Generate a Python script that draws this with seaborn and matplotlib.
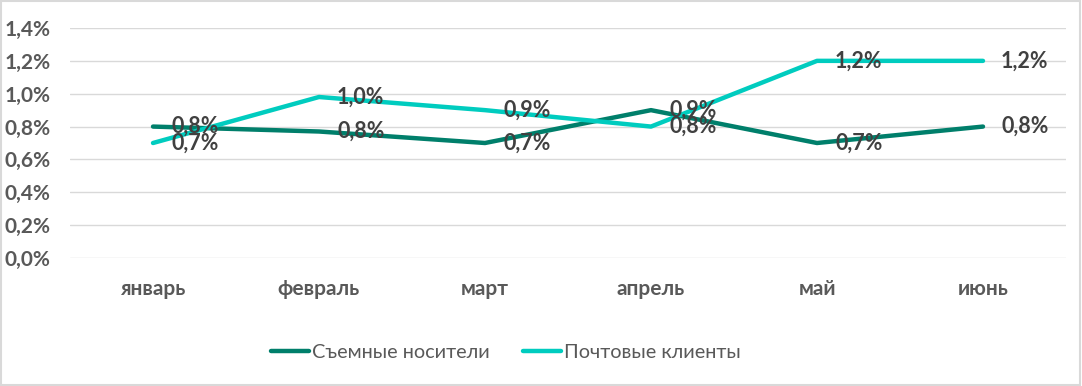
import pandas as pd
import matplotlib.pyplot as plt
import seaborn as sns
from matplotlib.ticker import FuncFormatter

months = ["январь", "февраль", "март", "апрель", "май", "июнь"]
removable = [0.80, 0.77, 0.70, 0.90, 0.70, 0.80]
mail = [0.70, 0.98, 0.90, 0.80, 1.20, 1.20]
series_names = ["Съемные носители", "Почтовые клиенты"]
colors = ["#007F6B", "#00CCBF"]

df = pd.DataFrame({
    "month": months * 2,
    "value": removable + mail,
    "series": [series_names[0]] * len(months) + [series_names[1]] * len(months),
})

sns.set_style("white")
plt.rcParams["font.family"] = ["Lato", "DejaVu Sans"]

fig = plt.figure(figsize=(10.82, 3.86), dpi=100)
ax = fig.add_axes([70 / 1082, 1 - 258 / 386, 996 / 1082, 230 / 386])

sns.lineplot(data=df, x="month", y="value", hue="series", palette=colors,
             linewidth=3.2, sort=False, ax=ax, legend=True)

# data labels to the right of each point
for name, vals in zip(series_names, [removable, mail]):
    for i, v in enumerate(vals):
        ax.annotate(f"{v:.1f}%".replace(".", ","), (i, v), xytext=(13, 0),
                    textcoords="offset points", va="center", ha="left",
                    fontsize=15.5, fontweight="bold", color="#404040")

ax.set_xlim(-0.5, 5.5)
ax.set_ylim(0, 1.4)
ax.set_yticks([0, 0.2, 0.4, 0.6, 0.8, 1.0, 1.2, 1.4])
ax.yaxis.set_major_formatter(FuncFormatter(lambda v, p: f"{v:.1f}%".replace(".", ",")))
ax.grid(axis="y", color="#D9D9D9", linewidth=1)
ax.set_axisbelow(True)
for s in ax.spines.values():
    s.set_visible(False)
ax.tick_params(axis="both", length=0, labelsize=15, labelcolor="#595959")
ax.tick_params(axis="x", pad=15)
ax.tick_params(axis="y", pad=14)
for lbl in ax.get_xticklabels() + ax.get_yticklabels():
    lbl.set_fontweight("bold")
ax.set_xlabel("")
ax.set_ylabel("")

handles, labels = ax.get_legend_handles_labels()
ax.get_legend().remove()
fig.legend(handles, labels, loc="center", bbox_to_anchor=(506 / 1082, 1 - 352 / 386), ncol=2,
           frameon=False, fontsize=14.3, labelcolor="#595959", handlelength=1.9,
           handletextpad=0.15, columnspacing=1.7)

# outer chart border
fig.add_artist(plt.Rectangle((0.001, 0.002), 0.997, 0.995, transform=fig.transFigure,
                             fill=False, edgecolor="#D9D9D9", linewidth=1.5))

fig.savefig("out.png", dpi=100)
